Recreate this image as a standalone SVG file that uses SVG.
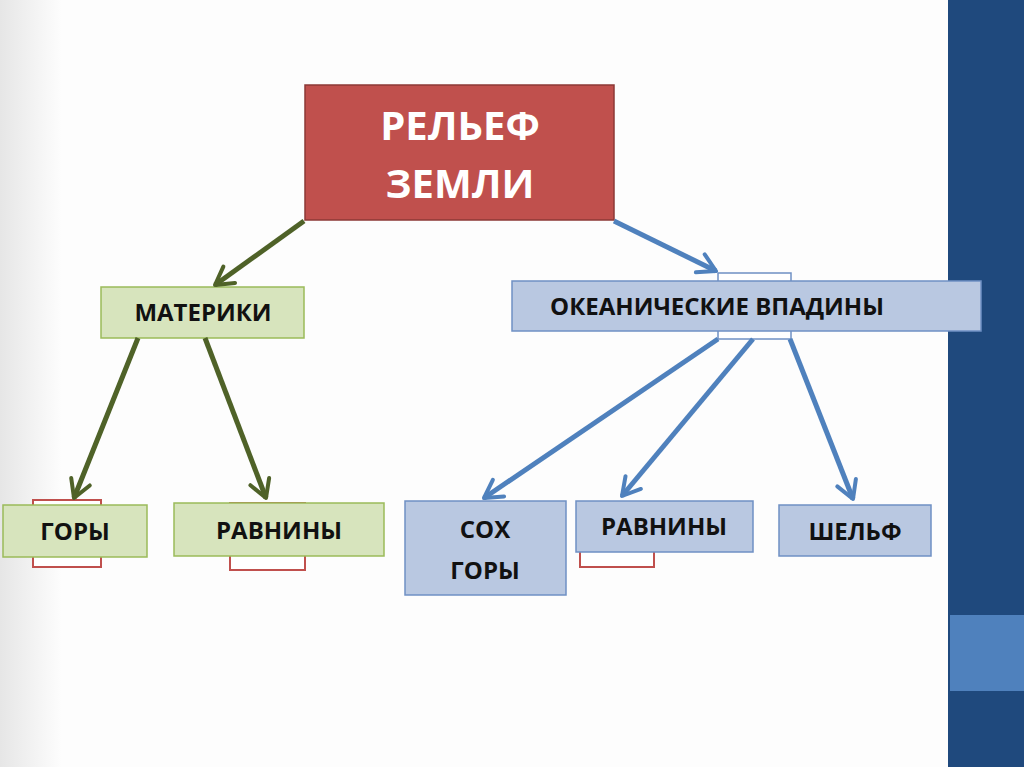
<svg xmlns="http://www.w3.org/2000/svg" width="1024" height="767" viewBox="0 0 1024 767">
<defs>
<linearGradient id="bg" x1="0" y1="0" x2="1" y2="0"><stop offset="0" stop-color="#e6e6e6"/><stop offset="0.06" stop-color="#fdfdfd"/><stop offset="1" stop-color="#fdfdfd"/></linearGradient>
<marker id="ag" viewBox="0 0 10 10" refX="8" refY="5" markerWidth="5" markerHeight="5" orient="auto" markerUnits="strokeWidth"><polyline points="1,1 8,5 1,9" fill="none" stroke="#4f6228" stroke-width="1.6" stroke-linecap="round" stroke-linejoin="round"/></marker>
<marker id="ab" viewBox="0 0 10 10" refX="8" refY="5" markerWidth="5" markerHeight="5" orient="auto" markerUnits="strokeWidth"><polyline points="1,1 8,5 1,9" fill="none" stroke="#4f81bd" stroke-width="1.6" stroke-linecap="round" stroke-linejoin="round"/></marker>
</defs>
<style>
.g{fill:#d7e4bd;stroke:#9bbb59;stroke-width:1.5}
.b{fill:#b9c8e1;stroke:#6f90c4;stroke-width:1.5}
.r{fill:#fff;stroke:#c0504d;stroke-width:2}
.t{font-family:"Open Sans","Liberation Sans",sans-serif;font-weight:bold;font-size:24px;fill:#111;text-anchor:middle}
.cg{stroke:#4f6228;stroke-width:5;fill:none;marker-end:url(#ag)}
.cb{stroke:#4f81bd;stroke-width:5;fill:none;marker-end:url(#ab)}
</style>
<rect width="1024" height="767" fill="url(#bg)"/>
<rect x="948" y="0" width="76" height="767" fill="#1f497d"/>
<rect x="950" y="615" width="74" height="76" fill="#4f81bd"/>
<g id="relief"><rect x="305" y="85" width="309" height="135" fill="#c0504d" stroke="#8c3836" stroke-width="1.5"/><text x="460" y="140" class="t" style="fill:#fff;font-size:40px">РЕЛЬЕФ</text><text x="460" y="198" class="t" style="fill:#fff;font-size:40px">ЗЕМЛИ</text></g>
<g id="materiki"><rect x="101" y="287" width="203" height="51" class="g"/><text x="203" y="321" class="t">МАТЕРИКИ</text></g>
<g id="ocean"><rect x="718" y="273" width="73" height="66" fill="#fff" stroke="#6f90c4" stroke-width="1.5"/><rect x="512" y="281" width="469" height="50" class="b"/><text x="717" y="315" class="t">ОКЕАНИЧЕСКИЕ ВПАДИНЫ</text></g>
<g id="gory"><rect x="33" y="500" width="68" height="67" class="r"/><rect x="3" y="505" width="144" height="52" class="g"/><text x="75" y="540" class="t">ГОРЫ</text></g>
<g id="ravniny1"><rect x="230" y="503" width="75" height="67" class="r"/><rect x="174" y="503" width="210" height="53" class="g"/><text x="279" y="539" class="t">РАВНИНЫ</text></g>
<g id="sohgory"><rect x="405" y="501" width="161" height="94" class="b"/><text x="485" y="538" class="t">СОХ</text><text x="485" y="579" class="t">ГОРЫ</text></g>
<g id="ravniny2"><rect x="580" y="540" width="74" height="27" class="r"/><rect x="576" y="501" width="177" height="51" class="b"/><text x="664" y="535" class="t">РАВНИНЫ</text></g>
<g id="shelf"><rect x="779" y="505" width="152" height="51" class="b"/><text x="855" y="540" class="t">ШЕЛЬФ</text></g>
<g id="connectors">
<line x1="304" y1="221" x2="215" y2="285" class="cg"/>
<line x1="138" y1="338" x2="74" y2="498" class="cg"/>
<line x1="205" y1="338" x2="266" y2="498" class="cg"/>
<line x1="614" y1="221" x2="716" y2="271" class="cb"/>
<line x1="718" y1="339" x2="484" y2="498" class="cb"/>
<line x1="753" y1="339" x2="622" y2="496" class="cb"/>
<line x1="790" y1="339" x2="853" y2="499" class="cb"/>
</g>
</svg>
